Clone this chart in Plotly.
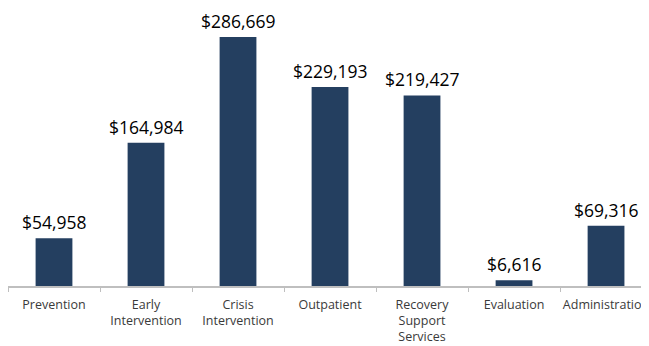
import plotly.graph_objects as go

categories = ["Prevention", "Early<br>Intervention", "Crisis<br>Intervention", "Outpatient",
              "Recovery<br>Support<br>Services", "Evaluation", "Administration"]
values = [54958, 164984, 286669, 229193, 219427, 6616, 69316]
value_labels = ["$54,958", "$164,984", "$286,669", "$229,193", "$219,427", "$6,616", "$69,316"]

fig = go.Figure(go.Bar(
    x=categories, y=values,
    marker=dict(color="#243F60", line=dict(width=0)),
    width=0.4,
))

for cat, val, lab in zip(categories, values, value_labels):
    fig.add_annotation(
        x=cat, y=val, text=lab, showarrow=False, yanchor="bottom", yshift=3,
        borderpad=0,
        font=dict(family="Open Sans", size=17.5, color="#000000"),
    )

fig.update_layout(
    width=641, height=338,
    margin=dict(l=0, r=0, t=0, b=60, autoexpand=False),
    plot_bgcolor="white", paper_bgcolor="white",
    showlegend=False,
    xaxis=dict(
        range=[-0.5, 6.467], showline=True, linecolor="#bfbfbf", linewidth=1.5,
        ticks="outside", tickson="boundaries", ticklen=4, tickcolor="#bfbfbf",
        tickfont=dict(family="Open Sans", size=12.5, color="#3a3a3a"),
        tickangle=0, ticklabelstandoff=6,
        showgrid=False, fixedrange=True,
    ),
    yaxis=dict(range=[0, 320050], visible=False, showgrid=False),
)

fig.write_html("out.html")
